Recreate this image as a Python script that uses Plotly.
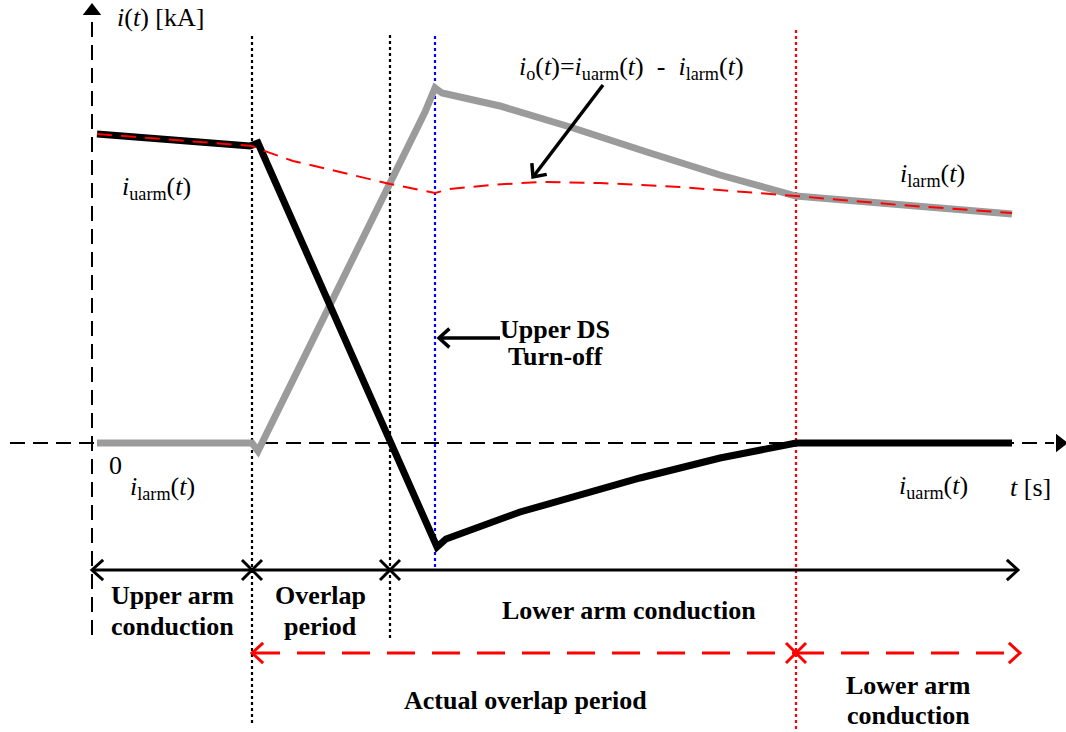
import math
import plotly.graph_objects as go

# ---------------- data (t: time units, i: current units; origin at axes crossing) ----------------
t_uarm = [5, 158, 166, 345, 354, 428, 548, 628, 704, 920]
i_uarm = [309, 297, 300, -104, -96, -69, -35, -15, 0, 0]

t_larm = [5, 160, 166, 238, 308, 333, 343, 350, 408, 478, 558, 628, 704, 808, 920]
i_larm = [0, 0, -8, 138, 280, 331, 355, 350, 337, 316, 290, 268, 247, 238, 229]

t_io = [5, 160, 170, 201, 248, 298, 343, 358, 398, 448, 508, 588, 704, 808, 920]
i_io = [309, 297, 293, 282, 271, 259, 250, 254, 258, 261, 260, 256, 247, 238, 230]

# event instants
t_overlap_start = 160
t_overlap_end = 298
t_ds_off = 343
t_actual_end = 704
t_end = 926

# vertical event lines: (t, i_top, i_bottom, colour)
event_lines = [
    (t_overlap_start, 407, -282, "black"),
    (t_overlap_end, 408, -197, "black"),
    (t_ds_off, 407, -127, "blue"),
    (t_actual_end, 413, -289, "red"),
]

# period bars
i_bar_black = -127
i_bar_red = -210

FONT = "Liberation Serif"
FS = 26
FS_B = 26

fig = go.Figure()

# axes (dashed)
fig.add_trace(go.Scatter(x=[0, 0], y=[421, -197], mode="lines",
                         line=dict(color="black", width=2, dash="15px,8px"), hoverinfo="skip"))
fig.add_trace(go.Scatter(x=[-82, 962], y=[0, 0], mode="lines",
                         line=dict(color="black", width=2, dash="15px,8px"), hoverinfo="skip"))
fig.add_trace(go.Scatter(x=[0], y=[432], mode="markers", cliponaxis=False,
                         marker=dict(symbol="triangle-up", size=16, color="black"), hoverinfo="skip"))
fig.add_trace(go.Scatter(x=[968], y=[0], mode="markers", cliponaxis=False,
                         marker=dict(symbol="triangle-right", size=16, color="black"), hoverinfo="skip"))

# event lines
for t, a, b, c in event_lines:
    fig.add_trace(go.Scatter(x=[t, t], y=[a, b], mode="lines", cliponaxis=False,
                             line=dict(color=c, width=2.2, dash="dot"), hoverinfo="skip"))

# curves
fig.add_trace(go.Scatter(x=t_larm, y=i_larm, mode="lines",
                         line=dict(color="#9b9b9b", width=7), hoverinfo="skip"))
fig.add_trace(go.Scatter(x=t_uarm, y=i_uarm, mode="lines",
                         line=dict(color="black", width=7), hoverinfo="skip"))
fig.add_trace(go.Scatter(x=t_io, y=i_io, mode="lines",
                         line=dict(color="red", width=2, dash="15px,9px"), hoverinfo="skip"))


def chevron(tip_x, tip_y, from_x, from_y, length=15, half_angle=42):
    dx, dy = from_x - tip_x, from_y - tip_y
    n = math.hypot(dx, dy)
    ux, uy = dx / n, dy / n
    pts_x, pts_y = [], []
    for s in (1, -1):
        a = math.radians(half_angle * s)
        rx = ux * math.cos(a) - uy * math.sin(a)
        ry = ux * math.sin(a) + uy * math.cos(a)
        pts_x.append(tip_x + rx * length)
        pts_y.append(tip_y + ry * length)
    return [pts_x[0], tip_x, pts_x[1]], [pts_y[0], tip_y, pts_y[1]]


def arrow_line(x0, y0, x1, y1, color, width=3, dash="solid", head_start=False, head_end=True, length=15):
    fig.add_trace(go.Scatter(x=[x0, x1], y=[y0, y1], mode="lines", cliponaxis=False,
                             line=dict(color=color, width=width, dash=dash), hoverinfo="skip"))
    if head_end:
        cx, cy = chevron(x1, y1, x0, y0, length)
        fig.add_trace(go.Scatter(x=cx, y=cy, mode="lines", cliponaxis=False,
                                 line=dict(color=color, width=width), hoverinfo="skip"))
    if head_start:
        cx, cy = chevron(x0, y0, x1, y1, length)
        fig.add_trace(go.Scatter(x=cx, y=cy, mode="lines", cliponaxis=False,
                                 line=dict(color=color, width=width), hoverinfo="skip"))


# period bars
arrow_line(0, i_bar_black, t_end, i_bar_black, "black", width=3, head_start=True, head_end=True)
fig.add_trace(go.Scatter(x=[t_overlap_start, t_overlap_end], y=[i_bar_black, i_bar_black], mode="markers",
                         marker=dict(symbol="x-thin", size=20, line=dict(color="black", width=3)),
                         hoverinfo="skip"))
arrow_line(t_overlap_start, i_bar_red, t_actual_end, i_bar_red, "red", width=3, dash="28px,17px",
           head_start=True, head_end=False)
arrow_line(t_actual_end, i_bar_red, t_end + 2, i_bar_red, "red", width=3, dash="28px,17px",
           head_start=False, head_end=True)
fig.add_trace(go.Scatter(x=[t_actual_end], y=[i_bar_red], mode="markers",
                         marker=dict(symbol="x-thin", size=20, line=dict(color="red", width=3)),
                         hoverinfo="skip"))

# pointer arrows
arrow_line(408, 105, 347, 105, "black", width=3.5, length=14)
arrow_line(511, 358, 441, 266, "black", width=3.5, length=14)

# labels: (text, t, i, xanchor, bold)
labels = [
    ("<i>i</i>(<i>t</i>) [kA]", 23, 426, "left", False),
    ("<i>i</i><sub>uarm</sub>(<i>t</i>)", 28, 255, "left", False),
    ("0", 23, -22, "center", False),
    ("<i>i</i><sub>larm</sub>(<i>t</i>)", 36, -45, "left", False),
    ("<i>i</i><sub>o</sub>(<i>t</i>)=<i>i</i><sub>uarm</sub>(<i>t</i>)  -  <i>i</i><sub>larm</sub>(<i>t</i>)",
     425, 375, "left", False),
    ("<i>i</i><sub>larm</sub>(<i>t</i>)", 806, 268, "left", False),
    ("<i>i</i><sub>uarm</sub>(<i>t</i>)", 805, -44, "left", False),
    ("<i>t</i> [s]", 916, -44, "left", False),
    ("Upper DS", 463, 114, "center", True),
    ("Turn-off", 463, 87, "center", True),
    ("Upper arm", 80, -152, "center", True),
    ("conduction", 80, -183, "center", True),
    ("Overlap", 228, -152, "center", True),
    ("period", 228, -183, "center", True),
    ("Lower arm conduction", 537, -167, "center", True),
    ("Actual overlap period", 433, -257, "center", True),
    ("Lower arm", 816, -242, "center", True),
    ("conduction", 816, -272, "center", True),
]
for text, x, y, xa, bold in labels:
    fig.add_annotation(x=x, y=y, text=("<b>%s</b>" % text) if bold else text, showarrow=False,
                       xanchor=xa, yanchor="middle",
                       font=dict(family=FONT, size=FS_B if bold else FS, color="black"))

fig.update_layout(
    width=1066, height=732,
    margin=dict(l=0, r=0, t=0, b=0),
    paper_bgcolor="white", plot_bgcolor="white",
    showlegend=False,
    xaxis=dict(range=[-92, 974], visible=False, fixedrange=True),
    yaxis=dict(range=[-289, 443], visible=False, fixedrange=True),
)

fig.write_html("out.html")
